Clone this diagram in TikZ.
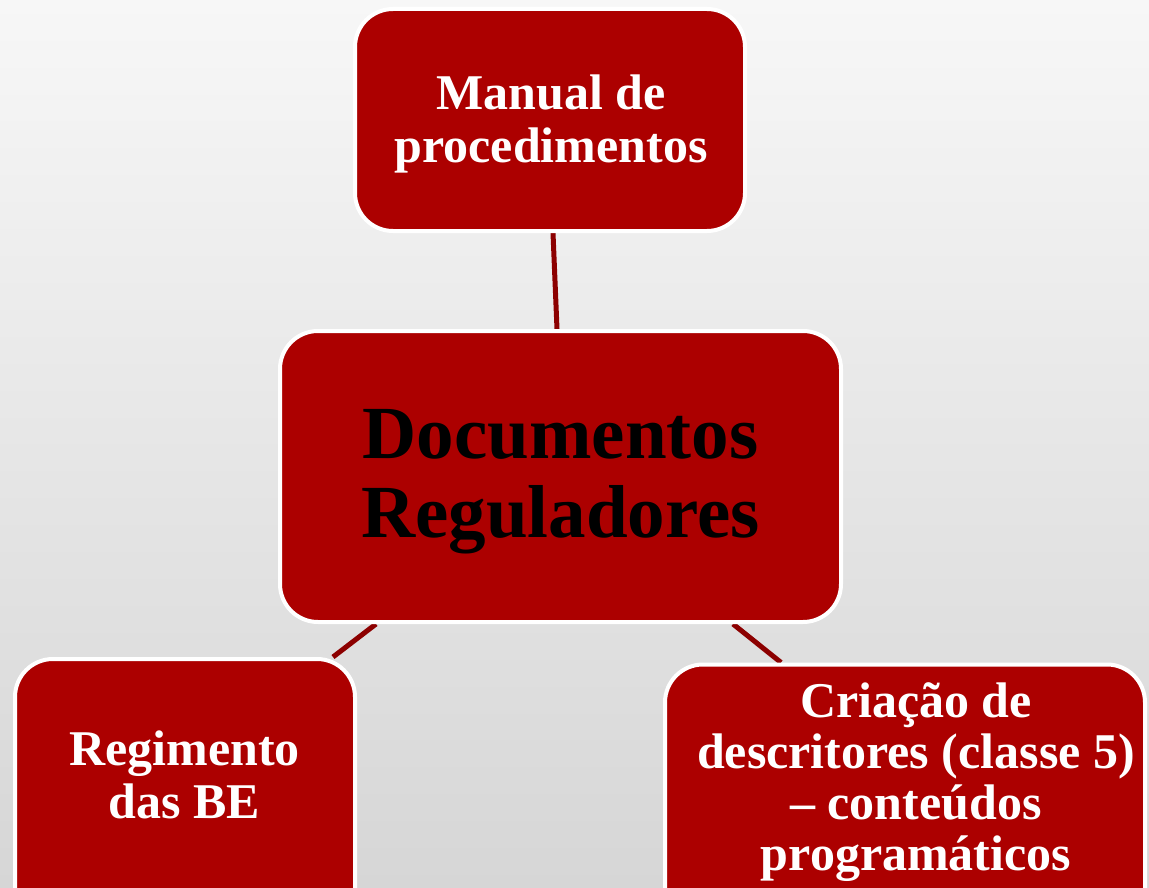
\documentclass[tikz,border=0pt]{standalone}
\usepackage{fontspec}
\setmainfont{Liberation Serif}
\usetikzlibrary{calc}
\definecolor{boxred}{RGB}{172,0,0}
\definecolor{linered}{RGB}{140,0,0}
\definecolor{bgtop}{RGB}{247,247,247}
\definecolor{bgbot}{RGB}{214,214,214}
\pgfdeclarelayer{bg}
\pgfdeclarelayer{lines}
\pgfsetlayers{bg,lines,main}
\begin{document}
\begin{tikzpicture}[x=1pt,y=-1pt,
  box/.style={draw=white, line width=4pt, fill=boxred, rounded corners=38pt, inner sep=0pt},
  conn/.style={draw=linered, line width=5pt},
  lbl/.style={anchor=base, inner sep=0pt, text=white, font=\bfseries\fontsize{50}{53}\selectfont}]
\clip (0,0) rectangle (1149,888);
\useasboundingbox (0,0) rectangle (1149,888);
\begin{pgfonlayer}{bg}
  \shade[top color=bgtop, bottom color=bgbot] (0,0) rectangle (1149,888);
\end{pgfonlayer}
% boxes
\node[box, minimum width=390pt, minimum height=222pt] (top) at (550,120) {};
\node[box, minimum width=561pt, minimum height=291pt] (ctr) at (560.5,476.5) {};
\node[box, minimum width=340pt, minimum height=282pt] (bl) at (185,800) {};
\node[box, minimum width=480pt, minimum height=276pt] (br) at (905,802.5) {};
% texts
\node[lbl] (tTop) at (551,110) {\begin{tabular}[t]{@{}c@{}}Manual de\\procedimentos\end{tabular}};
\node[lbl, text=black, font=\bfseries\fontsize{75}{79}\selectfont] (tCtr) at (560.5,458) {\begin{tabular}[t]{@{}c@{}}Documentos\\Reguladores\end{tabular}};
\node[lbl] (tBl) at (184.5,765) {\begin{tabular}[t]{@{}c@{}}Regimento\\das BE\end{tabular}};
\node[lbl, font=\bfseries\fontsize{50}{51.3}\selectfont] (tBr) at (916,717) {\begin{tabular}[t]{@{}c@{}}Criação de\\descritores (classe 5)\\– conteúdos\\programáticos\end{tabular}};
% connectors
\begin{pgfonlayer}{lines}
  \draw[conn] ([xshift=3pt]top.south) -- ([xshift=-3.5pt]ctr.north);
  \draw[conn] ([xshift=-184.5pt]ctr.south) -- ([xshift=148pt]bl.north);
  \draw[conn] ([xshift=172.5pt]ctr.south) -- ([xshift=-124pt]br.north);
\end{pgfonlayer}
\end{tikzpicture}
\end{document}
